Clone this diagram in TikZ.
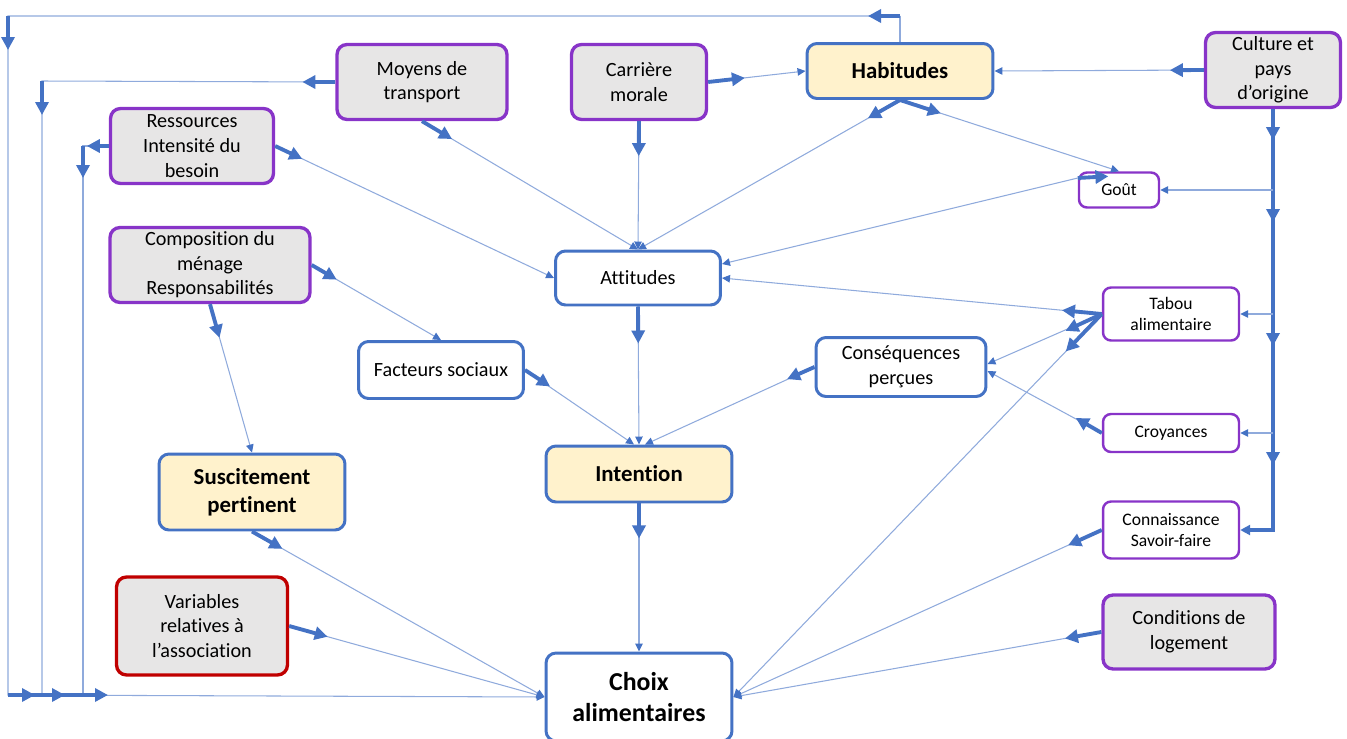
\documentclass[tikz,border=0pt]{standalone}
\usepackage{fontspec}
\setmainfont{Carlito}[Ligatures=NoCommon]
\usepackage{tikz}
\usetikzlibrary{calc}
\usetikzlibrary{arrows.meta}
\definecolor{linkblue}{RGB}{68,114,196}
\definecolor{palelink}{RGB}{143,170,220}
\definecolor{boxpurple}{RGB}{136,52,200}
\definecolor{boxred}{RGB}{192,0,0}
\definecolor{boxgrey}{RGB}{231,230,230}
\definecolor{boxyellow}{RGB}{255,242,204}
\tikzstyle{factor} = [rectangle, 
rounded corners=0.2cm, 
inner sep=0pt, 
align=center, 
line width=1.9pt, 
draw=boxpurple, 
fill=boxgrey, 
font=\fontsize{11.5}{14}\selectfont]
\tikzstyle{minor} = [rectangle, 
rounded corners=0.16cm, 
inner sep=0pt, 
align=center, 
line width=1.4pt, 
draw=boxpurple, 
fill=white, 
font=\fontsize{10}{11.5}\selectfont]
\tikzstyle{stage} = [rectangle, 
rounded corners=0.2cm, 
inner sep=0pt, 
align=center, 
line width=1.7pt, 
draw=linkblue, 
fill=white, 
font=\fontsize{11.5}{14}\selectfont]
\tikzstyle{keystage} = [stage, fill=boxyellow, font=\fontsize{13}{16}\selectfont\bfseries]
\tikzstyle{trunk} = [line width=2.2pt, draw=linkblue]
\tikzstyle{lead} = [trunk, -{Triangle[length=0.26cm, width=0.26cm]}]
\tikzstyle{wire} = [line width=0.6pt, draw=palelink]
\tikzstyle{link} = [wire, -{Triangle[length=0.16cm, width=0.15cm, color=linkblue]}]
\begin{document}
\begin{tikzpicture}[x=0.02cm, y=-0.02cm]
    \useasboundingbox (0,0) rectangle (1347,738);

    \node (moyens) [factor, minimum width=3.4cm, minimum height=1.5cm] at (422,82) {Moyens de\\transport};
    \node (carriere) [factor, minimum width=2.7cm, minimum height=1.5cm] at (639,82) {Carrière\\morale};
    \node (habitudes) [keystage, minimum width=3.72cm, minimum height=1.1cm] at (900,71) {Habitudes};
    \node (culture) [factor, minimum width=2.7cm, minimum height=1.5cm] at (1273,70) {Culture et\\pays\\d’origine};
    \node (ressources) [factor, minimum width=3.26cm, minimum height=1.5cm] at (192,146) {Ressources\\Intensité du\\besoin};
    \node (gout) [minor, minimum width=1.6cm, minimum height=0.7cm] at (1119,190) {Goût};
    \node (attitudes) [stage, minimum width=3.3cm, minimum height=1.08cm] at (638,278) {Attitudes};
    \node (composition) [factor, minimum width=4cm, minimum height=1.5cm] at (210,265) {Composition du\\ménage\\Responsabilités};
    \node (tabou) [minor, minimum width=2.72cm, minimum height=1.06cm] at (1171,314) {Tabou\\alimentaire};
    \node (facteurs) [stage, minimum width=3.3cm, minimum height=1.14cm] at (441,370) {Facteurs sociaux};
    \node (consequences) [stage, minimum width=3.4cm, minimum height=1.18cm] at (901,367) {Conséquences\\perçues};
    \node (croyances) [minor, minimum width=2.72cm, minimum height=0.76cm] at (1171,433) {Croyances};
    \node (intention) [keystage, minimum width=3.72cm, minimum height=1.12cm] at (639,474) {Intention};
    \node (suscitement) [keystage, minimum width=3.72cm, minimum height=1.52cm] at (252,492) {Suscitement\\pertinent};
    \node (connaissance) [minor, minimum width=2.72cm, minimum height=1.14cm] at (1171,530) {Connaissance\\Savoir-faire};
    \node (variables) [factor, draw=boxred, minimum width=3.42cm, minimum height=1.96cm] at (202,626) {Variables\\relatives à\\l’association};
    \node (conditions) [factor, minimum width=3.44cm, minimum height=1.48cm] at (1189,632) {Conditions de\\logement};
    \node (choix) [stage, font=\fontsize{14.7}{18}\selectfont\bfseries, minimum width=3.72cm, minimum height=1.76cm] at (639,697) {Choix\\alimentaires};

    % Outer loops
    \coordinate (hbend) at (900,16);
    \coordinate (lbend) at (8,16);
    \coordinate (lfoot) at (8,695);
    \coordinate (mbend) at (42,81);
    \coordinate (mfoot) at (42,695);
    \coordinate (rbend) at (83,146);
    \coordinate (rfoot) at (83,695);
    \draw [wire] (habitudes.north) -- (hbend);
    \draw [link] (hbend) -- (lbend) -- (lfoot) -- (choix.west);
    \draw [wire] (moyens.west) -- (mbend) -- (mfoot);
    \draw [wire] (ressources.west) -- (rbend) -- (rfoot);
    \draw [trunk] (lfoot) -- (rfoot);
    \draw [lead] (hbend) -- ++(-32,0);
    \draw [lead] (lbend) -- ++(0,34);
    \draw [lead] (moyens.west) -- ++(-33,0);
    \draw [lead] (mbend) -- ++(0,34);
    \draw [lead] (ressources.west) -- ++(-22,0);
    \draw [lead] (rbend) -- ++(0,32);
    \draw [lead] (lfoot) -- ++(27,0);
    \draw [lead] (mfoot) -- ++(23,0);
    \draw [lead] (rfoot) -- ++(25,0);

    % Culture
    \coordinate (cgout) at (culture.south |- gout.east);
    \coordinate (ctabou) at (culture.south |- tabou.east);
    \coordinate (ccroy) at (culture.south |- croyances.east);
    \coordinate (cfoot) at (culture.south |- connaissance.east);
    \draw [trunk, -{Triangle[length=0.2cm, width=0.2cm]}] (culture.south) -- (cfoot) -- (connaissance.east);
    \draw [lead] (culture.south) -- ++(0,31);
    \draw [lead] (cgout) -- ++(0,32);
    \draw [lead] (ctabou) -- ++(0,32);
    \draw [lead] (ccroy) -- ++(0,32);
    \draw [link] (cgout) -- (gout.east);
    \draw [link] (ctabou) -- (tabou.east);
    \draw [link] (ccroy) -- (croyances.east);
    \draw [link] (culture.west) -- (habitudes.east);
    \draw [lead] (culture.west) -- ($(culture.west)!0.68cm!(habitudes.east)$);

    % Towards Attitudes and Habitudes
    \draw [link] (moyens.south) -- (attitudes.north);
    \draw [lead] (moyens.south) -- ($(moyens.south)!0.7cm!(attitudes.north)$);
    \draw [link] (carriere.south) -- (attitudes.north);
    \draw [lead] (carriere.south) -- ($(carriere.south)!0.7cm!(attitudes.north)$);
    \draw [link] (carriere.east) -- (habitudes.west);
    \draw [lead] (carriere.east) -- ($(carriere.east)!0.74cm!(habitudes.west)$);
    \draw [link] (habitudes.south) -- (attitudes.north);
    \draw [lead] (habitudes.south) -- ($(habitudes.south)!0.74cm!(attitudes.north)$);
    \draw [link] (habitudes.south) -- (gout.north);
    \draw [lead] (habitudes.south) -- ($(habitudes.south)!0.86cm!(gout.north)$);
    \draw [link] (ressources.east) -- (attitudes.west);
    \draw [lead] (ressources.east) -- ($(ressources.east)!0.6cm!(attitudes.west)$);
    \draw [link] ($(gout.west)+(0,-12)$) -- ($(attitudes.east)+(0,-14)$);
    \draw [lead] ($(gout.west)+(0,-12)$) -- ($(gout.west)+(0,-12)!0.66cm!(attitudes.east)+(0,-14)$);

    % Tabou and Croyances
    \draw [link] (tabou.west) -- (attitudes.east);
    \draw [lead] (tabou.west) -- ($(tabou.west)!0.8cm!(attitudes.east)$);
    \draw [link] (tabou.west) -- ($(consequences.east)+(0,-3)$);
    \draw [lead] (tabou.west) -- ($(tabou.west)!0.8cm!(consequences.east)$);
    \draw [link] (tabou.west) -- (choix.east);
    \draw [lead] (tabou.west) -- ($(tabou.west)!1.04cm!(choix.east)$);
    \draw [link] (croyances.west) -- ($(consequences.east)+(0,4)$);
    \draw [lead] (croyances.west) -- ($(croyances.west)!0.6cm!(consequences.east)$);

    % Composition
    \draw [link] (composition.east) -- (facteurs.north);
    \draw [lead] (composition.east) -- ($(composition.east)!0.58cm!(facteurs.north)$);
    \draw [link] (composition.south) -- (suscitement.north);
    \draw [lead] (composition.south) -- ($(composition.south)!0.7cm!(suscitement.north)$);

    % Intention
    \draw [link] (attitudes.south) -- (intention.north);
    \draw [lead] (attitudes.south) -- ($(attitudes.south)!0.74cm!(intention.north)$);
    \draw [link] (facteurs.east) -- ($(intention.north)+(-5,0)$);
    \draw [lead] (facteurs.east) -- ($(facteurs.east)!0.6cm!(intention.north)$);
    \draw [link] (consequences.west) -- ($(intention.north)+(6,0)$);
    \draw [lead] (consequences.west) -- ($(consequences.west)!0.6cm!(intention.north)$);

    % Choix alimentaires
    \draw [link] (intention.south) -- (choix.north);
    \draw [lead] (intention.south) -- ($(intention.south)!0.7cm!(choix.north)$);
    \draw [link] (suscitement.south) -- (choix.west);
    \draw [lead] (suscitement.south) -- ($(suscitement.south)!0.7cm!(choix.west)$);
    \draw [link] (variables.east) -- (choix.west);
    \draw [lead] (variables.east) -- ($(variables.east)!0.8cm!(choix.west)$);
    \draw [link] (connaissance.west) -- (choix.east);
    \draw [lead] (connaissance.west) -- ($(connaissance.west)!0.74cm!(choix.east)$);
    \draw [link] (conditions.west) -- (choix.east);
    \draw [lead] (conditions.west) -- ($(conditions.west)!0.74cm!(choix.east)$);
  \end{tikzpicture}
\end{document}
